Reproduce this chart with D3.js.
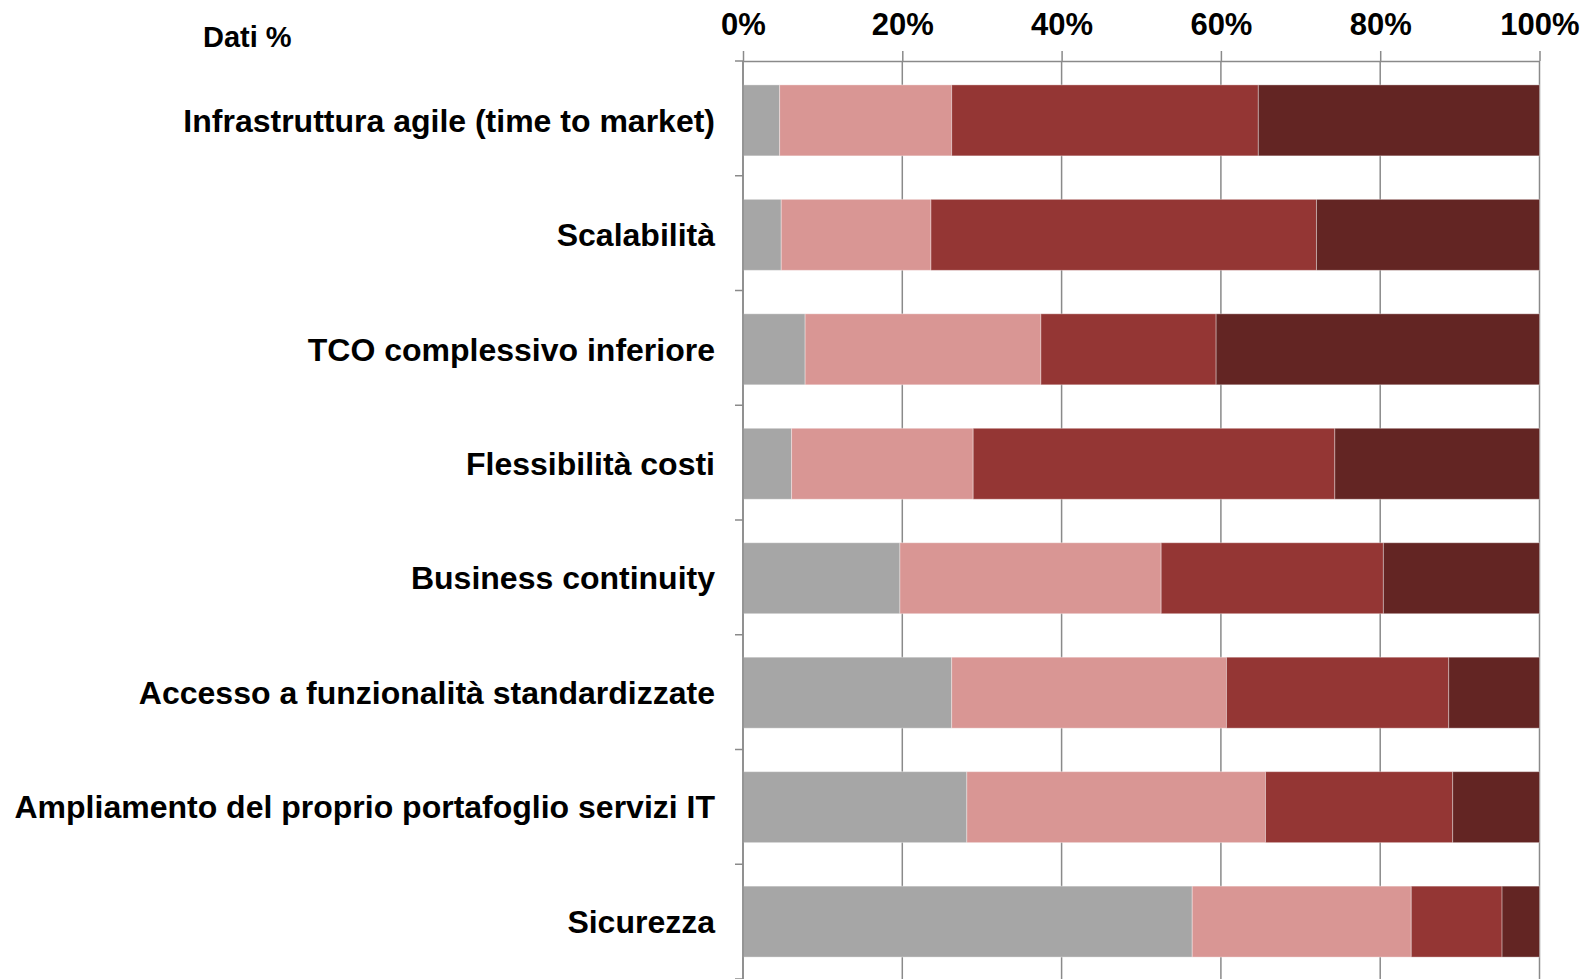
<!DOCTYPE html>
<html>
<head>
<meta charset="utf-8">
<script src="https://cdn.jsdelivr.net/npm/d3@7"></script>
<style>
  html, body { margin: 0; padding: 0; background: #ffffff; }
  svg { display: block; }
  text { font-family: "Liberation Sans", Arial, sans-serif; font-weight: bold; fill: #000; }
</style>
</head>
<body>
<svg id="chart" width="1585" height="979"></svg>
<script>
const categories = [
  "Infrastruttura agile (time to market)",
  "Scalabilità",
  "TCO complessivo inferiore",
  "Flessibilità costi",
  "Business continuity",
  "Accesso a funzionalità standardizzate",
  "Ampliamento del proprio portafoglio servizi IT",
  "Sicurezza"
];
const seriesKeys = ["s1", "s2", "s3", "s4"];
const s1 = [4.6, 4.8, 7.8, 6.1, 19.7, 26.2, 28.1, 56.4];
const s2 = [21.6, 18.8, 29.6, 22.8, 32.8, 34.5, 37.5, 27.5];
const s3 = [38.5, 48.4, 22.0, 45.4, 27.9, 27.9, 23.5, 11.4];
const s4 = [35.3, 28.0, 40.6, 25.7, 19.6, 11.4, 10.9, 4.7];
const tickValues = [0, 20, 40, 60, 80, 100];
const tickLabels = ["0%", "20%", "40%", "60%", "80%", "100%"];
const colors = ["#A6A6A6", "#D99694", "#943634", "#632523"];
const cornerLabel = "Dati %";

const rows = categories.map((c, i) => ({ cat: c, s1: s1[i], s2: s2[i], s3: s3[i], s4: s4[i] }));
const stacked = d3.stack().keys(seriesKeys)(rows);

const svg = d3.select("#chart");
const x = d3.scaleLinear().domain([0, 100]).range([743, 1539.5]);
const y = d3.scaleBand().domain(categories).range([61, 979]).paddingInner(0.38).paddingOuter(0.2);
const color = d3.scaleOrdinal().domain(seriesKeys).range(colors);

const gridColor = "#8a8a8a";

// gridlines
svg.append("g").selectAll("line").data(tickValues).join("line")
  .attr("x1", d => x(d)).attr("x2", d => x(d))
  .attr("y1", 61).attr("y2", 979)
  .attr("stroke", gridColor).attr("stroke-width", 1.5);

// bars
svg.append("g").attr("transform", "translate(0,1)").selectAll("g").data(stacked).join("g")
  .attr("fill", d => color(d.key))
  .selectAll("rect").data(d => d).join("rect")
  .attr("x", d => x(d[0]))
  .attr("width", d => x(d[1]) - x(d[0]))
  .attr("y", d => y(d.data.cat))
  .attr("height", y.bandwidth())
  .attr("stroke", "rgba(255,255,255,0.35)")
  .attr("stroke-width", 1);

// top axis
const xAxis = d3.axisTop(x).tickValues(tickValues)
  .tickFormat((d, i) => tickLabels[i]).tickSize(10).tickSizeOuter(0).tickPadding(16);
const gx = svg.append("g").attr("transform", "translate(0,61)").call(xAxis);
gx.select(".domain").attr("stroke", gridColor).attr("stroke-width", 1.5);
gx.selectAll(".tick line").attr("stroke", gridColor).attr("stroke-width", 1.5);
gx.selectAll(".tick text").style("font-size", "31px").style("font-family", "'Liberation Sans', Arial, sans-serif").style("font-weight", "bold").attr("fill", "#000");

// left axis line
svg.append("line").attr("x1", x(0)).attr("x2", x(0)).attr("y1", 61).attr("y2", 979)
  .attr("stroke", gridColor).attr("stroke-width", 1.5);

// category boundary ticks
const step = y.step();
const bounds = d3.range(categories.length + 1).map(i => 61 + i * (918 / categories.length));
svg.append("g").selectAll("line").data(bounds).join("line")
  .attr("x1", x(0) - 8).attr("x2", x(0))
  .attr("y1", d => d).attr("y2", d => d)
  .attr("stroke", gridColor).attr("stroke-width", 1.5);

// category labels
const yAxis = d3.axisLeft(y).tickSize(0).tickPadding(28);
const gy = svg.append("g").attr("transform", `translate(${x(0)},2)`).call(yAxis);
gy.select(".domain").remove();
gy.selectAll(".tick text").style("font-size", "32px").style("font-family", "'Liberation Sans', Arial, sans-serif").style("font-weight", "bold").attr("fill", "#000");

// corner label
svg.append("text").attr("x", 203).attr("y", 47).style("font-size", "29px").text(cornerLabel);
</script>
</body>
</html>
